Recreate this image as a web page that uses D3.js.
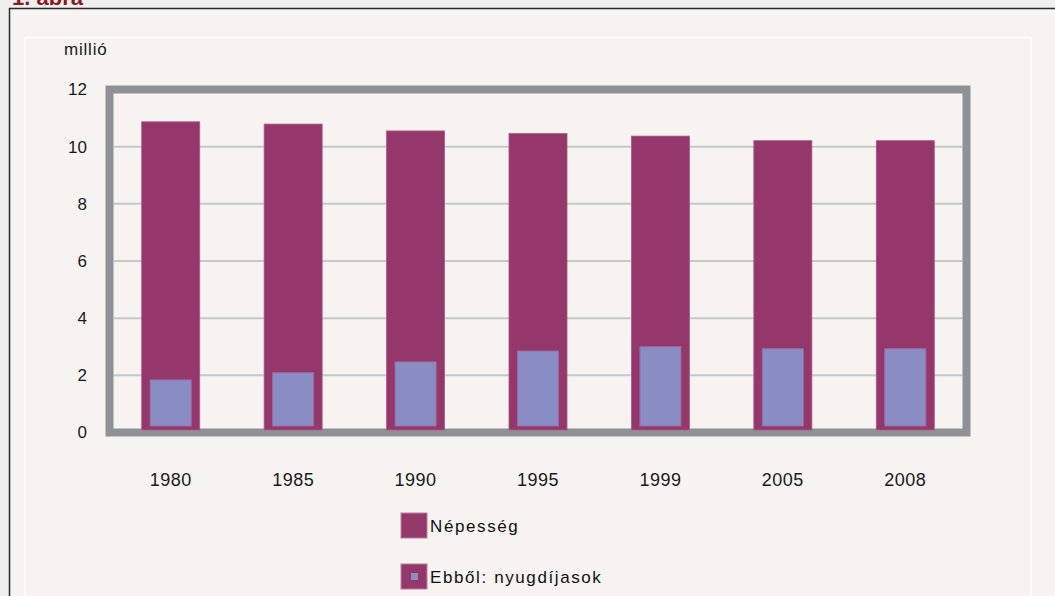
<!DOCTYPE html>
<html lang="hu">
<head>
<meta charset="utf-8">
<title>1. ábra</title>
<script src="https://cdn.jsdelivr.net/npm/d3@7/dist/d3.min.js"></script>
<style>
  * { margin: 0; padding: 0; }
  body { background: #efefef; }
  svg { display: block; }
  text { font-family: "Liberation Sans", Arial, sans-serif; fill: #1a1a1a; }
</style>
</head>
<body>
<div id="chart"></div>
<script>
  // adatok
  const years = ["1980", "1985", "1990", "1995", "1999", "2005", "2008"];
  const nepesseg = [10.87, 10.79, 10.55, 10.46, 10.37, 10.21, 10.21];
  const nyugdijasok = [1.84, 2.09, 2.47, 2.85, 3.0, 2.93, 2.93];
  const yTicks = [0, 2, 4, 6, 8, 10, 12];
  const legendLabels = ["Népesség", "Ebből: nyugdíjasok"];

  const W = 1055, H = 596;
  const magenta = "#94376a", blue = "#8a8cc4", frameGray = "#8e9195";

  const svg = d3.select("#chart").append("svg")
      .attr("width", W).attr("height", H);

  // kulso keret
  svg.append("rect").attr("x", 9.5).attr("y", 8.5)
     .attr("width", W).attr("height", H)
     .attr("fill", "#f6f3f0").attr("stroke", "#2a2a2a").attr("stroke-width", 1.5);
  svg.append("rect").attr("x", 24.5).attr("y", 37.5)
     .attr("width", 1031 - 24.5).attr("height", H)
     .attr("fill", "none").attr("stroke", "#ffffff").attr("stroke-width", 1.5);

  // cim (felul levagva, mint az eredetin)
  svg.append("text").attr("x", 12).attr("y", 5)
     .style("font-size", "22px").style("font-weight", "bold")
     .style("fill", "#8b1a1a")
     .text("1. ábra");

  const x = d3.scaleBand().domain(years)
      .range([109.5, 966.5]).paddingInner(0.526).paddingOuter(0.263);
  const y = d3.scaleLinear().domain([0, 12]).range([432.5, 89.5]);

  // racsvonalak
  svg.append("g").selectAll("line")
     .data(yTicks.filter(d => d > 0 && d < 12))
     .join("line")
     .attr("x1", 113.5).attr("x2", 962.5)
     .attr("y1", d => y(d)).attr("y2", d => y(d))
     .attr("stroke", "#c6c8ca").attr("stroke-width", 2);

  // szurke keret
  svg.append("rect")
     .attr("x", x.range()[0]).attr("y", y(12))
     .attr("width", x.range()[1] - x.range()[0]).attr("height", y(0) - y(12))
     .attr("fill", "none").attr("stroke", frameGray).attr("stroke-width", 8);

  // y tengely
  const yAxis = svg.append("g")
     .attr("transform", `translate(${x.range()[0]},0)`)
     .call(d3.axisLeft(y).tickValues(yTicks).tickSize(0).tickPadding(22.5));
  yAxis.select(".domain").remove();
  yAxis.selectAll("text")
     .style("font-size", "17px").style("fill", "#1a1a1a")
     .style("font-family", "Liberation Sans, Arial, sans-serif");

  svg.append("text").attr("x", 64).attr("y", 55)
     .style("font-size", "17px").style("letter-spacing", "0.8px")
     .text("millió");

  // x tengely
  const xAxis = svg.append("g")
     .attr("transform", `translate(0,${y(0)})`)
     .call(d3.axisBottom(x).tickSize(0).tickPadding(0));
  xAxis.select(".domain").remove();
  xAxis.selectAll("text")
     .attr("y", 53).attr("dy", 0)
     .style("font-size", "18px").style("fill", "#1a1a1a")
     .style("letter-spacing", "0.5px")
     .style("font-family", "Liberation Sans, Arial, sans-serif");

  // oszlopok
  const bw = x.bandwidth();
  const base = y(0) - 2.5;
  const inset = 8.5;

  svg.append("g").selectAll("rect")
     .data(years)
     .join("rect")
     .attr("x", d => x(d))
     .attr("y", (d, i) => y(nepesseg[i]))
     .attr("width", bw)
     .attr("height", (d, i) => base - y(nepesseg[i]))
     .attr("fill", magenta)
     .attr("stroke", "#b0588a").attr("stroke-width", 0.8);

  svg.append("g").selectAll("rect")
     .data(years)
     .join("rect")
     .attr("x", d => x(d) + inset)
     .attr("y", (d, i) => y(nyugdijasok[i]))
     .attr("width", bw - 2 * inset)
     .attr("height", (d, i) => base - 4 - y(nyugdijasok[i]))
     .attr("fill", blue)
     .attr("stroke", "#9a6aa6").attr("stroke-width", 1);

  // jelmagyarazat
  const legend = svg.append("g").attr("transform", "translate(401,513)");
  const items = legend.selectAll("g").data(legendLabels).join("g")
     .attr("transform", (d, i) => `translate(0,${i * 51})`);
  items.append("rect")
     .attr("width", 26).attr("height", 25)
     .attr("fill", magenta).attr("stroke", "#c07aa0").attr("stroke-width", 1);
  items.filter((d, i) => i === 1).append("rect")
     .attr("x", 10).attr("y", 9).attr("width", 7).attr("height", 7)
     .attr("fill", blue);
  items.append("text")
     .attr("x", 29).attr("y", 19)
     .style("font-size", "17px").style("letter-spacing", "1.6px")
     .style("fill", "#111")
     .text(d => d);
</script>
</body>
</html>
